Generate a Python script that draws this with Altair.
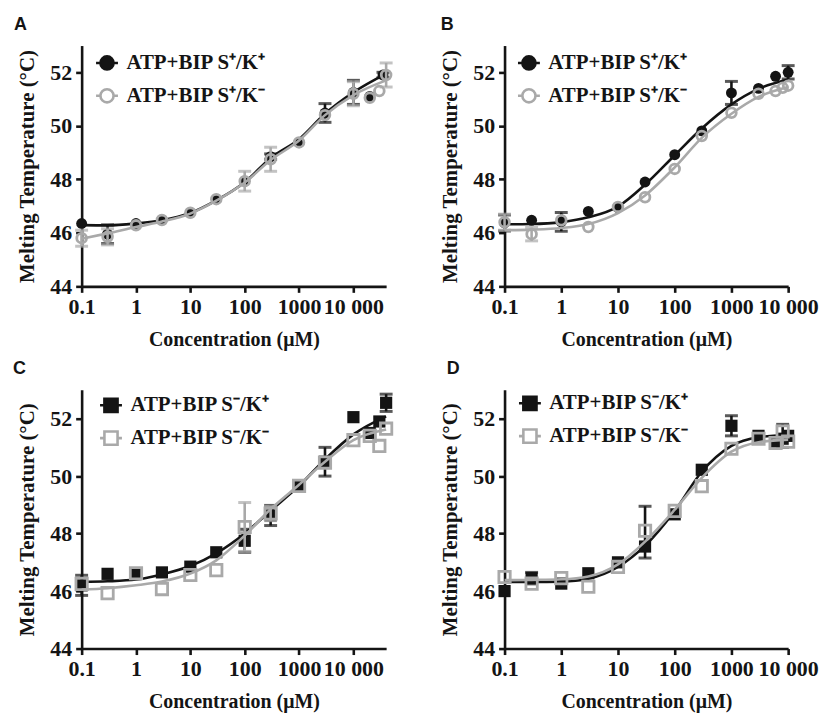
import altair as alt
import pandas as pd

BLACK = "#141414"
GRAY = "#a9a9a9"

# ---------------- Panel A : ATP+BIP S+/K+ (filled) and S+/K- (open) ----------------
A_k_conc = [0.1, 0.3, 1, 3, 10, 30, 100, 300, 1000, 3000, 10000, 20000, 35000]
A_k_tm = [46.35, 45.95, 46.35, 46.48, 46.75, 47.26, 47.93, 48.85, 49.38, 50.48, 51.25, 51.1, 51.9]
A_k_err = [0, 0.35, 0, 0, 0, 0, 0, 0.1, 0, 0.35, 0.45, 0, 0.1]
A_m_conc = [0.1, 0.3, 1, 3, 10, 30, 100, 300, 1000, 3000, 10000, 20000, 30000, 40000]
A_m_tm = [45.8, 45.85, 46.28, 46.48, 46.75, 47.26, 47.93, 48.75, 49.38, 50.4, 51.2, 51.05, 51.3, 51.9]
A_m_err = [0.3, 0.3, 0, 0, 0, 0, 0.37, 0.45, 0, 0, 0.45, 0, 0, 0.45]
A_fit_conc = [0.1, 0.3, 1, 3, 10, 30, 100, 300, 1000, 3000, 10000, 40000]
A_k_fit = [46.29, 46.28, 46.35, 46.47, 46.74, 47.21, 47.89, 48.8, 49.5, 50.45, 51.25, 51.95]
A_m_fit = [45.78, 45.98, 46.22, 46.42, 46.72, 47.2, 47.88, 48.72, 49.45, 50.4, 51.15, 51.7]

# ---------------- Panel B ----------------
B_k_conc = [0.1, 0.3, 1, 3, 10, 30, 100, 300, 1000, 3000, 6000, 10000]
B_k_tm = [46.37, 46.47, 46.41, 46.8, 46.94, 47.9, 48.92, 49.81, 51.23, 51.4, 51.85, 52.0]
B_k_err = [0.3, 0, 0.35, 0, 0, 0, 0, 0, 0.43, 0, 0, 0.25]
B_m_conc = [0.1, 0.3, 1, 3, 10, 30, 100, 300, 1000, 3000, 6000, 8000, 10000]
B_m_tm = [46.4, 45.95, 46.47, 46.22, 46.97, 47.33, 48.39, 49.62, 50.49, 51.2, 51.3, 51.42, 51.5]
B_m_err = [0.3, 0.25, 0, 0, 0, 0, 0, 0, 0, 0, 0, 0, 0]
B_fit_conc = [0.1, 0.3, 1, 3, 10, 30, 100, 300, 1000, 3000, 10000]
B_k_fit = [46.32, 46.33, 46.4, 46.58, 46.98, 47.8, 48.9, 49.9, 50.8, 51.38, 51.73]
B_m_fit = [46.1, 46.12, 46.18, 46.33, 46.74, 47.4, 48.45, 49.55, 50.45, 51.08, 51.45]

# ---------------- Panel C : S-/K+ (filled squares) and S-/K- (open squares) ----------------
C_k_conc = [0.1, 0.3, 1, 3, 10, 30, 100, 300, 1000, 3000, 10000, 20000, 30000, 40000]
C_k_tm = [46.2, 46.6, 46.62, 46.65, 46.85, 47.35, 47.75, 48.63, 49.66, 50.5, 52.05, 51.5, 51.9, 52.55]
C_k_err = [0.35, 0, 0, 0, 0, 0, 0.4, 0.35, 0, 0.5, 0, 0, 0, 0.3]
C_m_conc = [0.1, 0.3, 1, 3, 10, 30, 100, 300, 1000, 3000, 10000, 20000, 30000, 40000]
C_m_tm = [46.25, 45.93, 46.62, 46.07, 46.56, 46.73, 48.23, 48.7, 49.66, 50.47, 51.25, 51.4, 51.05, 51.65]
C_m_err = [0, 0, 0, 0, 0, 0, 0.85, 0.25, 0, 0, 0, 0, 0, 0]
C_fit_conc = [0.1, 0.3, 1, 3, 10, 30, 100, 300, 1000, 3000, 10000, 40000]
C_k_fit = [46.32, 46.34, 46.4, 46.58, 46.87, 47.31, 48.0, 48.8, 49.66, 50.58, 51.45, 52.08]
C_m_fit = [46.05, 46.1, 46.2, 46.33, 46.61, 47.07, 47.93, 48.85, 49.7, 50.5, 51.25, 51.62]

# ---------------- Panel D ----------------
D_k_conc = [0.1, 0.3, 1, 3, 10, 30, 100, 300, 1000, 3000, 6000, 8000, 10000]
D_k_tm = [46.0, 46.45, 46.26, 46.62, 47.0, 47.55, 48.67, 50.22, 51.75, 51.4, 51.2, 51.3, 51.4]
D_k_err_lo = [0, 0.2, 0, 0, 0, 0.4, 0, 0, 0.35, 0, 0, 0.3, 0]
D_k_err_hi = [0, 0.2, 0, 0, 0, 1.4, 0, 0, 0.35, 0, 0, 0.5, 0]
D_m_conc = [0.1, 0.3, 1, 3, 10, 30, 100, 300, 1000, 3000, 6000, 8000, 10000]
D_m_tm = [46.49, 46.26, 46.45, 46.15, 46.84, 48.1, 48.79, 49.65, 50.95, 51.3, 51.15, 51.55, 51.2]
D_m_err = [0, 0, 0, 0, 0, 0, 0, 0, 0, 0, 0, 0, 0]
D_fit_conc = [0.1, 0.3, 1, 3, 10, 30, 100, 300, 1000, 3000, 10000]
D_k_fit = [46.32, 46.32, 46.33, 46.43, 46.84, 47.58, 48.79, 50.15, 51.05, 51.35, 51.43]
D_m_fit = [46.38, 46.39, 46.41, 46.51, 46.93, 47.72, 48.83, 49.94, 50.85, 51.18, 51.27]

LABELS_S_PLUS = ["ATP+BIP S\u207a/K\u207a", "ATP+BIP S\u207a/K\u207b"]
LABELS_S_MINUS = ["ATP+BIP S\u207b/K\u207a", "ATP+BIP S\u207b/K\u207b"]

X_TICKS = [0.1, 1, 10, 100, 1000, 10000]
X_TICK_LABELS = ["0.1", "1", "10", "100", "1000", "10 000"]
Y_TICKS = [44, 46, 48, 50, 52]

SERIF = "Liberation Serif"

label_expr = " : ".join(
    f"datum.value == {v} ? '{t}'" for v, t in zip(X_TICKS, X_TICK_LABELS)
) + " : ''"

CIRCLE_LEG = "M-1,0H-0.6M0.6,0H1M-0.6,0A0.6,0.6,0,1,1,0.6,0A0.6,0.6,0,1,1,-0.6,0Z"
SQUARE_LEG = "M-1,0H-0.6M0.6,0H1M-0.6,-0.6H0.6V0.6H-0.6Z"


def points_df(conc, tm, lo, hi, series):
    return pd.DataFrame({
        "conc": conc, "tm": tm,
        "lo": [t - e for t, e in zip(tm, lo)],
        "hi": [t + e for t, e in zip(tm, hi)],
        "haserr": [(a > 0 or b > 0) for a, b in zip(lo, hi)],
        "series": series,
    })


def fit_df(conc, tm, series):
    return pd.DataFrame({"conc": conc, "tm": tm, "series": series})


def panel(letter, title_dx, series_pts, series_fit, labels, shape, xmax, w, h, leg_x, leg_y):
    xs = alt.Scale(type="log", domain=[0.1, xmax], nice=False)
    ys = alt.Scale(domain=[44, 53], nice=False, zero=False)
    xaxis = alt.Axis(values=X_TICKS, labelExpr=label_expr, title="Concentration (\u03bcM)", titleFontSize=20)
    yaxis = alt.Axis(values=Y_TICKS, format="d", title="Melting Temperature (\u00b0C)", titleFontSize=21)
    X = alt.X("conc:Q", scale=xs, axis=xaxis)
    Y = alt.Y("tm:Q", scale=ys, axis=yaxis)
    colors = [BLACK, GRAY]
    sizes = [120, 95] if shape == "circle" else [150, 130]
    layers = []
    for i, lab in enumerate(labels):
        pdf = series_pts[i]
        fdf = series_fit[i]
        col = colors[i]
        err = pdf[pdf["haserr"]]
        if len(err):
            layers.append(alt.Chart(err).mark_rule(color=col, strokeWidth=2.6).encode(
                x=X, y=alt.Y("lo:Q", scale=ys, axis=yaxis), y2="hi:Q"))
            layers.append(alt.Chart(err).mark_tick(color=col, orient="horizontal", size=13, thickness=3).encode(
                x=X, y=alt.Y("lo:Q", scale=ys, axis=yaxis)))
            layers.append(alt.Chart(err).mark_tick(color=col, orient="horizontal", size=13, thickness=3).encode(
                x=X, y=alt.Y("hi:Q", scale=ys, axis=yaxis)))
        layers.append(alt.Chart(fdf).mark_line(color=col, strokeWidth=2.6, interpolate="monotone").encode(x=X, y=Y))
        if i == 0:
            layers.append(alt.Chart(pdf).mark_point(shape=shape, filled=True, color=col, size=sizes[i], opacity=1).encode(x=X, y=Y))
        else:
            layers.append(alt.Chart(pdf).mark_point(shape=shape, filled=False, color=col, size=sizes[i],
                                                    strokeWidth=2.8, opacity=1).encode(x=X, y=Y))
    # legend-only layer
    leg = alt.Legend(title=None, orient="none", legendX=leg_x, legendY=leg_y, symbolSize=484,
                     symbolStrokeWidth=2.6, symbolOpacity=1, labelFont=SERIF, labelFontWeight="bold",
                     labelFontSize=21, labelColor=BLACK, labelOffset=7, rowPadding=8, padding=0,
                     labelLimit=400)
    allpts = pd.concat(series_pts)
    legpath = CIRCLE_LEG if shape == "circle" else SQUARE_LEG
    layers.append(alt.Chart(allpts).mark_point(opacity=0).encode(
        x=X, y=Y,
        color=alt.Color("series:N", scale=alt.Scale(domain=labels, range=colors), legend=leg),
        fill=alt.Fill("series:N", scale=alt.Scale(domain=labels, range=[BLACK, "white"]), legend=leg),
        shape=alt.Shape("series:N", scale=alt.Scale(domain=labels, range=[legpath, legpath]), legend=leg),
    ))
    return alt.layer(*layers).properties(
        width=w, height=h,
        title=alt.TitleParams(letter, anchor="start", frame="group", dx=title_dx, offset=12,
                              font="Liberation Sans", fontSize=18, fontWeight="bold", color=BLACK),
    )


pA = panel("A", -68,
           [points_df(A_k_conc, A_k_tm, A_k_err, A_k_err, LABELS_S_PLUS[0]),
            points_df(A_m_conc, A_m_tm, A_m_err, A_m_err, LABELS_S_PLUS[1])],
           [fit_df(A_fit_conc, A_k_fit, LABELS_S_PLUS[0]), fit_df(A_fit_conc, A_m_fit, LABELS_S_PLUS[1])],
           LABELS_S_PLUS, "circle", 40000, 306, 242, 13, 5)
pB = panel("B", -64,
           [points_df(B_k_conc, B_k_tm, B_k_err, B_k_err, LABELS_S_PLUS[0]),
            points_df(B_m_conc, B_m_tm, B_m_err, B_m_err, LABELS_S_PLUS[1])],
           [fit_df(B_fit_conc, B_k_fit, LABELS_S_PLUS[0]), fit_df(B_fit_conc, B_m_fit, LABELS_S_PLUS[1])],
           LABELS_S_PLUS, "circle", 10000, 285, 242, 12, 5)
pC = panel("C", -69,
           [points_df(C_k_conc, C_k_tm, C_k_err, C_k_err, LABELS_S_MINUS[0]),
            points_df(C_m_conc, C_m_tm, C_m_err, C_m_err, LABELS_S_MINUS[1])],
           [fit_df(C_fit_conc, C_k_fit, LABELS_S_MINUS[0]), fit_df(C_fit_conc, C_m_fit, LABELS_S_MINUS[1])],
           LABELS_S_MINUS, "square", 40000, 306, 260, 17, 3)
pD = panel("D", -58,
           [points_df(D_k_conc, D_k_tm, D_k_err_lo, D_k_err_hi, LABELS_S_MINUS[0]),
            points_df(D_m_conc, D_m_tm, D_m_err, D_m_err, LABELS_S_MINUS[1])],
           [fit_df(D_fit_conc, D_k_fit, LABELS_S_MINUS[0]), fit_df(D_fit_conc, D_m_fit, LABELS_S_MINUS[1])],
           LABELS_S_MINUS, "square", 10000, 285, 260, 13, 1)

chart = alt.concat(pA, pB, pC, pD, columns=2, spacing={"row": 104, "column": 119}, bounds="flush").resolve_scale(
    color="independent", fill="independent", shape="independent"
).resolve_legend(
    color="independent", fill="independent", shape="independent"
).properties(
    padding={"left": 5, "top": 6, "right": 0, "bottom": 0}
).configure_view(stroke=None).configure_axis(
    grid=False, domainColor=BLACK, domainWidth=2.6, tickColor=BLACK, tickWidth=2.6, tickSize=6,
    labelFont=SERIF, labelFontWeight="bold", labelFontSize=22, labelColor=BLACK, labelPadding=4,
    titleFont=SERIF, titleFontWeight="bold", titleColor=BLACK, titlePadding=12,
    labelFlush=False, labelOverlap=False,
)

chart.save("out.html", embed_options={"renderer": "svg", "actions": False})
